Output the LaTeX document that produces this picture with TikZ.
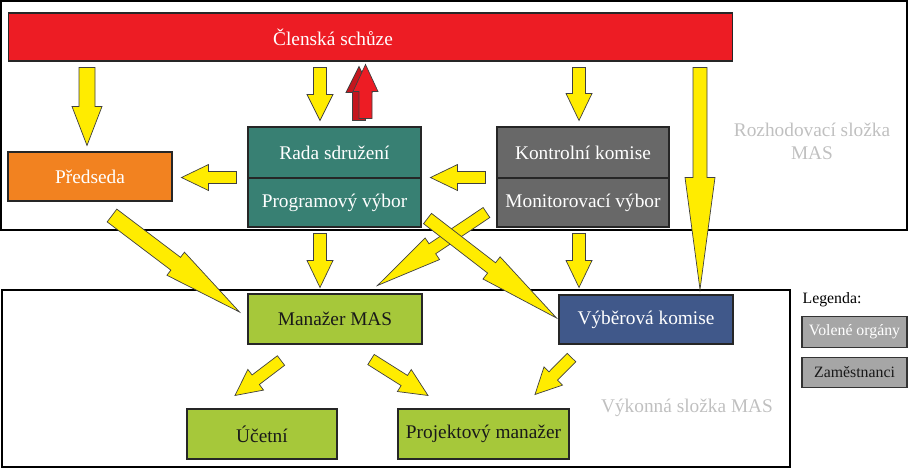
\documentclass[tikz,border=0pt]{standalone}
\usepackage{fontspec}
\setmainfont{Liberation Serif}
\usetikzlibrary{calc}

\definecolor{clenred}{RGB}{237,28,36}
\definecolor{redshade}{RGB}{196,22,30}
\definecolor{predorange}{RGB}{242,130,32}
\definecolor{radateal}{RGB}{56,128,115}
\definecolor{kontrgray}{RGB}{104,104,104}
\definecolor{manazgreen}{RGB}{166,200,58}
\definecolor{vyberblue}{RGB}{64,88,138}
\definecolor{leggray}{RGB}{166,166,166}
\definecolor{arrowyellow}{RGB}{255,236,0}
\definecolor{regiongray}{RGB}{192,192,192}

% block arrow: [style]{tail}{tip}{half shaft}{half head}{head length}, sizes in px
\newcommand{\yarrow}[6][]{%
  \coordinate (yt) at (#2);
  \coordinate (yb) at (#3);
  \coordinate (yh) at ($(yb)!#6*0.02cm!(yt)$);
  \draw[blockarrow,#1] ($(yt)!#4*0.02cm!90:(yb)$) -- ($(yh)!#4*0.02cm!90:(yb)$)
    -- ($(yh)!#5*0.02cm!90:(yb)$) -- (yb) -- ($(yh)!#5*0.02cm!-90:(yb)$)
    -- ($(yh)!#4*0.02cm!-90:(yb)$) -- ($(yt)!#4*0.02cm!-90:(yb)$) -- cycle;
}

\begin{document}
\begin{tikzpicture}[x=0.02cm, y=-0.02cm,
    organ/.style={draw=black!85, line width=0.6pt, inner sep=0pt, text=white,
      font=\fontsize{11}{13}\selectfont},
    legendbox/.style={draw=black!80, line width=0.6pt, fill=leggray, inner sep=0pt,
      minimum width=2.1cm, minimum height=0.61cm, font=\fontsize{9}{11}\selectfont},
    regionlabel/.style={text=regiongray, align=center, font=\fontsize{11}{13}\selectfont},
    blockarrow/.style={draw=black!75, line width=0.4pt, fill=arrowyellow, line join=miter}]
  \useasboundingbox (0,0) rectangle (909,469);
  \draw[line width=0.6pt] (1,1) rectangle (907,230);
  \draw[line width=0.6pt] (2,290) rectangle (790,467);

  \node[organ, fill=clenred, minimum width=14.5cm, minimum height=0.96cm] (clen) at (370.5,37) {};
  \node[text=white, font=\fontsize{11}{13}\selectfont] (clentext) at (333,37) {Členská schůze};
  \node[organ, fill=predorange, minimum width=3.28cm, minimum height=0.98cm] (preds) at (90,176.5) {Předseda};
  \node[organ, fill=radateal, minimum width=3.46cm, minimum height=1.02cm] (rada) at (334.5,152.5) {Rada sdružení};
  \node[organ, fill=radateal, minimum width=3.46cm, minimum height=0.98cm] (prog) at (334.5,202.5) {Programový výbor};
  \node[organ, fill=kontrgray, minimum width=3.44cm, minimum height=1.02cm] (kontr) at (583,152.5) {Kontrolní komise};
  \node[organ, fill=kontrgray, minimum width=3.44cm, minimum height=0.98cm] (monit) at (583,202.5) {Monitorovací výbor};
  \node[organ, fill=manazgreen, text=black!90, minimum width=3.48cm, minimum height=1cm] (manaz) at (335,319) {Manažer MAS};
  \node[organ, fill=vyberblue, minimum width=3.48cm, minimum height=0.98cm] (vyber) at (646,319.5) {Výběrová komise};
  \node[organ, fill=manazgreen, text=black!90, minimum width=3cm, minimum height=1cm] (ucet) at (262,434) {Účetní};
  \node[organ, fill=manazgreen, text=black!90, minimum width=3.42cm, minimum height=1cm] (proj) at (483.5,434) {Projektový manažer};

  \node[regionlabel] (rozh) at (812,141) {Rozhodovací složka\\MAS};
  \node[regionlabel] (vyk) at (687,408) {Výkonná složka MAS};
  \node[font=\fontsize{9}{11}\selectfont] (leg) at (832,300) {Legenda:};
  \node[legendbox, text=white] (leg1) at (854.5,332) {Volené orgány};
  \node[legendbox, text=black!90] (leg2) at (854.5,372.5) {Zaměstnanci};

  \yarrow{$(clen.south -| preds.north)+(-3,6)$}{$(preds.north)+(-3,-6)$}{8}{15}{39}
  \yarrow{$(clen.south -| rada.north)+(-14.5,6)$}{$(rada.north)+(-14.5,-6)$}{6.5}{13}{26}
  \yarrow[fill=redshade]{$(rada.north)+(24.5,-6)$}{$(clen.south -| rada.north)+(24.5,5)$}{6.5}{13}{26}
  \yarrow[fill=clenred]{$(rada.north)+(31,-8)$}{$(clen.south -| rada.north)+(31,3)$}{6.5}{12.5}{27}
  \yarrow{$(clen.south -| kontr.north)+(-4,6)$}{$(kontr.north)+(-4,-6)$}{6.5}{13}{27}
  \yarrow{$(clen.south -| vyber.north)+(54,6)$}{$(vyber.north)+(54,-5)$}{7}{15}{112}
  \yarrow{$(rada.south west)+(-11,-1)$}{$(preds.east |- rada.south)+(9,-1)$}{6}{13}{27}
  \yarrow{$(kontr.south west)+(-11,-1)$}{$(rada.south east)+(9,-1)$}{6}{13}{27}
  \yarrow{$(prog.south)+(-14.5,6)$}{$(manaz.north)+(-15,-6)$}{6.5}{13}{27}
  \yarrow{$(monit.south)+(-4,6)$}{$(monit.south |- vyber.north)+(-4,-7)$}{6.5}{13}{27}
  \yarrow{$(preds.south)+(22,14)$}{$(manaz.west)+(-8,-7)$}{8}{14.5}{80}
  \yarrow{$(monit.south west)+(-10,-15)$}{$(manaz.north east)+(-45,-8)$}{6}{13}{66}
  \yarrow{$(prog.south east)+(6,-9)$}{$(vyber.west)+(-2,-1.5)$}{6.5}{14}{82}
  \yarrow{$(manaz.south)+(-54,16)$}{$(ucet.north)+(-27,-13)$}{6}{13}{26}
  \yarrow{$(manaz.south)+(36,15)$}{$(proj.north)+(-55.5,-13)$}{6}{13}{28}
  \yarrow{$(vyber.south west)+(13,13)$}{$(proj.north)+(51.5,-14)$}{6}{13}{26}
  %\draw (prog) -- (vyber);
\end{tikzpicture}
\end{document}
